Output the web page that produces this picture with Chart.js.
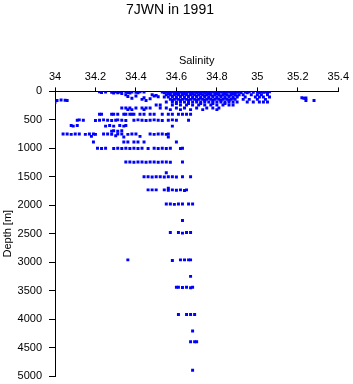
<!DOCTYPE html>
<html>
<head>
<meta charset="utf-8">
<script src="https://cdn.jsdelivr.net/npm/chart.js@4/dist/chart.umd.min.js"></script>
<style>
  body { margin: 0; background: #fff; }
</style>
</head>
<body>
<canvas id="graf-7jwn" width="353" height="384"></canvas>
<script>
// [salinity, depth in m]
const surface = [
  [34.22,5],[34.23,20],[34.25,10],[34.28,15],[34.29,30],[34.30,5],[34.31,25],[34.32,10],[34.33,35],
  [34.35,5],[34.36,20],[34.37,30],[34.38,10],[34.40,15],[34.41,25],[34.42,5],[34.44,10],
  [34.53,10],[34.54,25],[34.55,5],[34.56,15],[34.57,30],[34.58,10],[34.59,20],[34.60,5],[34.61,35],
  [34.62,15],[34.63,25],[34.64,5],[34.65,20],[34.66,10],[34.67,30],[34.68,15],[34.69,5],[34.70,25],
  [34.71,10],[34.72,20],[34.73,5],[34.74,30],[34.75,15],[34.76,10],[34.77,25],[34.78,5],[34.79,20],
  [34.80,10],[34.81,30],[34.82,5],[34.83,15],[34.84,25],[34.85,10],[34.86,5],[34.87,20],[34.88,10],
  [34.89,30],[34.90,15],[34.91,5],[34.92,20],[34.94,10],[34.95,25],[34.96,5],[34.98,15],[35.00,10],
  [35.01,25],[35.02,5],[35.03,15],[35.04,10],[35.05,20],[35.06,5],
  [34.56,40],[34.60,45],[34.64,40],[34.68,45],[34.72,40],[34.76,45],[34.80,40],[34.84,45],[34.88,40]
];

const upper = [
  [34.35,60],[34.36,90],[34.38,120],[34.40,80],[34.43,140],[34.44,110],[34.45,160],[34.47,130],
  [34.48,60],[34.49,80],[34.50,70],[34.51,95],
  [34.01,160],[34.03,150],[34.05,155],[34.06,160],[34.00,190],
  [35.22,110],[35.23,120],[35.24,115],[35.24,160],[35.28,160],
  [34.55,60],[34.57,60],[34.59,60],[34.61,60],[34.63,60],[34.65,60],[34.67,60],[34.69,60],[34.71,60],
  [34.73,60],[34.75,60],[34.77,60],[34.79,60],[34.81,60],[34.83,60],[34.85,60],[34.87,60],[34.89,60],
  [34.91,60],[34.93,60],[34.97,60],[35.00,60],[35.02,60],[35.05,60],
  [34.58,80],[34.62,80],[34.66,80],[34.70,80],[34.74,80],[34.78,80],[34.82,80],[34.86,80],[34.90,80],
  [34.54,100],[34.56,100],[34.58,100],[34.60,100],[34.62,100],[34.64,100],[34.66,100],[34.68,100],
  [34.70,100],[34.72,100],[34.74,100],[34.76,100],[34.78,100],[34.80,100],[34.82,100],[34.84,100],
  [34.86,100],[34.88,100],[34.90,100],[34.94,100],[34.99,100],[35.01,100],[35.03,100],[35.06,100],
  [34.60,120],[34.64,120],[34.68,120],[34.72,120],[34.76,120],[34.80,120],[34.84,120],[34.88,120],
  [34.57,140],[34.59,140],[34.61,140],[34.63,140],[34.65,140],[34.67,140],[34.69,140],[34.71,140],
  [34.73,140],[34.75,140],[34.77,140],[34.79,140],[34.81,140],[34.83,140],[34.85,140],[34.87,140],
  [34.89,140],[34.93,140],[34.96,140],[35.00,140],[35.04,140],
  [34.58,160],[34.62,160],[34.66,160],[34.70,160],[34.74,160],[34.78,160],[34.82,160],[34.86,160],
  [34.55,185],[34.58,185],[34.60,185],[34.62,185],[34.64,185],[34.66,185],[34.68,185],[34.70,185],
  [34.72,185],[34.74,185],[34.76,185],[34.78,185],[34.80,185],[34.82,185],[34.84,185],[34.86,185],
  [34.88,185],[34.90,185],[34.95,185],[34.98,185],[35.01,185],[35.03,185],[35.05,185],
  [34.60,215],[34.66,215],[34.72,215],[34.78,215],[34.84,215],
  [34.50,240],[34.52,240],[34.58,240],[34.62,240],[34.65,240],[34.68,240],[34.71,240],[34.74,240],
  [34.77,240],[34.80,240],[34.83,240],[34.86,240],[34.88,240],
  [34.33,290],[34.35,290],[34.37,290],[34.40,290],[34.43,290],[34.45,290],[34.47,290],[34.52,290],
  [34.55,290],[34.60,290],[34.64,290],[34.70,290],[34.75,290],[34.78,290],[34.81,290],
  [34.36,320],[34.38,320],[34.44,320],[34.57,320],[34.62,320],[34.67,320],[34.73,320],[34.80,320]
];

const intermediate = [
  [34.22,400],[34.23,400],[34.28,400],[34.29,400],[34.31,400],[34.34,400],[34.35,400],[34.37,400],
  [34.38,400],[34.39,400],[34.42,400],[34.44,400],[34.47,400],[34.49,400],[34.53,400],[34.56,400],
  [34.58,400],[34.61,400],[34.63,400],[34.65,400],[34.67,400],
  [34.11,505],[34.12,500],[34.14,505],[34.20,510],[34.22,505],[34.24,500],[34.26,505],[34.28,510],
  [34.30,505],[34.31,500],[34.33,505],[34.35,510],[34.39,505],[34.41,500],[34.43,505],[34.45,510],
  [34.47,505],[34.49,500],[34.51,505],[34.53,510],[34.56,505],[34.58,500],[34.60,505],[34.66,505],
  [34.08,600],[34.09,610],[34.11,600],[34.25,610],[34.27,600],[34.29,610],[34.32,600],[34.34,610],
  [34.35,600],[34.58,610],
  [34.28,700],[34.29,690],[34.31,700],[34.33,690],
  [34.04,750],[34.06,750],[34.08,755],[34.10,750],[34.12,750],[34.15,755],[34.17,750],[34.19,750],
  [34.20,755],[34.24,750],[34.26,750],[34.28,755],[34.31,750],[34.33,750],[34.36,755],[34.38,750],
  [34.40,750],[34.47,750],[34.49,755],[34.51,750],[34.53,750],[34.55,755],[34.56,750],
  [34.18,790],[34.30,780],[34.34,800],[34.42,790],[34.56,800],
  [34.19,890],[34.34,890],[34.36,890],[34.39,890],[34.41,890],[34.44,890],[34.60,890],
  [34.21,1000],[34.23,1005],[34.25,1000],[34.29,1005],[34.31,1000],[34.33,1005],[34.35,1000],
  [34.37,1005],[34.39,1000],[34.41,1005],[34.43,1000],[34.46,1005],[34.49,1000],[34.51,1005],
  [34.53,1000],[34.55,1005],[34.57,1000],[34.62,1005],[34.63,1000]
];

const deep = [
  [34.35,1240],[34.37,1240],[34.39,1245],[34.41,1240],[34.43,1240],[34.45,1245],[34.47,1240],
  [34.49,1240],[34.51,1245],[34.53,1240],[34.55,1240],[34.57,1245],[34.63,1240],
  [34.44,1500],[34.46,1500],[34.48,1505],[34.50,1500],[34.52,1500],[34.54,1505],[34.56,1500],
  [34.58,1500],[34.60,1505],[34.63,1500],[34.67,1500],[34.55,1430],
  [34.46,1730],[34.48,1730],[34.50,1730],[34.54,1730],[34.56,1735],[34.58,1730],[34.60,1735],
  [34.62,1730],[34.64,1740],[34.65,1730],[34.56,1700],
  [34.55,1980],[34.57,1980],[34.59,1985],[34.61,1980],[34.63,1980],[34.66,1980],[34.68,1980],
  [34.63,2270],
  [34.57,2480],[34.61,2480],[34.63,2490],[34.65,2480],[34.67,2480],
  [34.36,2960],[34.58,2970],[34.62,2960],[34.64,2960],[34.66,2960],[34.67,2960],
  [34.67,3250],
  [34.60,3440],[34.61,3440],[34.63,3445],[34.65,3440],[34.67,3450],[34.68,3440],
  [34.61,3920],[34.65,3920],[34.67,3920],[34.69,3920],
  [34.68,4210],
  [34.67,4400],[34.69,4400],[34.70,4400],
  [34.68,4900]
];

const xTicks = { min: 34, max: 35.4, step: 0.2 };
const yTicks = { min: 0, max: 5000, step: 500 };

const puntos = surface.concat(upper, intermediate, deep).map(p => ({ x: p[0], y: p[1] }));

const fuente = "'Liberation Sans', Arial, Helvetica, sans-serif";

new Chart("graf-7jwn", {
  type: "scatter",
  data: {
    datasets: [{
      data: puntos,
      backgroundColor: "#0000ff",
      borderWidth: 0,
      pointStyle: "rect",
      pointRadius: 2.1,
      pointHoverRadius: 2.1
    }]
  },
  options: {
    responsive: false,
    animation: false,
    layout: { padding: { left: 0, right: 13, top: 0, bottom: 8 } },
    plugins: {
      legend: { display: false },
      tooltip: { enabled: false },
      title: {
        display: true,
        text: "7JWN in 1991",
        color: "#000",
        font: { family: fuente, size: 14, weight: "normal" },
        padding: { top: 2, bottom: 35.6 }
      }
    },
    scales: {
      x: {
        type: "linear",
        position: "top",
        min: xTicks.min,
        max: xTicks.max,
        afterFit: s => { s.height = 37; },
        ticks: {
          stepSize: xTicks.step,
          color: "#000",
          padding: 4,
          font: { family: fuente, size: 11 },
          callback: v => String(Math.round(v * 10) / 10)
        },
        grid: { drawOnChartArea: false, tickLength: 4, color: "#000" },
        border: { color: "#000", width: 1 },
        title: {
          display: true,
          text: "Salinity",
          color: "#000",
          font: { family: fuente, size: 11 },
          padding: { top: 0, bottom: 0 }
        }
      },
      y: {
        type: "linear",
        reverse: true,
        min: yTicks.min,
        max: yTicks.max,
        afterFit: s => { s.width = 55; s.paddingTop = 0; s.paddingBottom = 0; },
        ticks: {
          stepSize: yTicks.step,
          color: "#000",
          padding: 7,
          font: { family: fuente, size: 11 },
          callback: v => String(v)
        },
        grid: { drawOnChartArea: false, tickLength: 6, color: "#000" },
        border: { color: "#000", width: 1 },
        title: {
          display: true,
          text: "Depth [m]",
          color: "#000",
          font: { family: fuente, size: 11 },
          padding: { top: 1.5, bottom: 0 }
        }
      }
    }
  }
});
</script>
</body>
</html>
